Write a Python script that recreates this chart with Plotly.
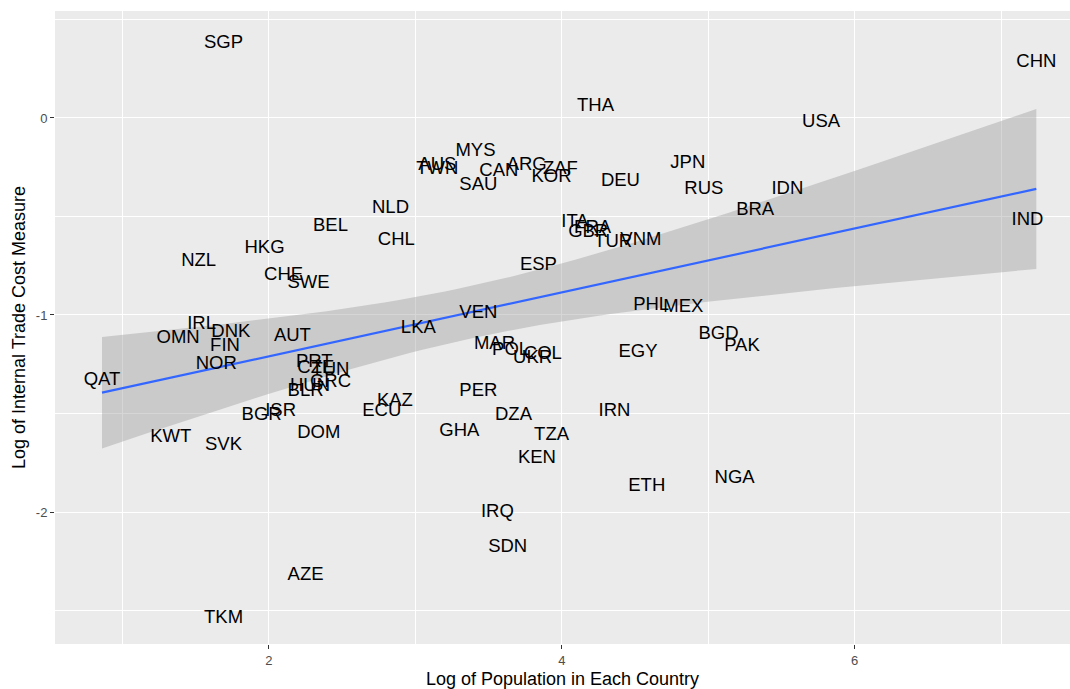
"""Internal trade cost vs population (ggplot-style scatter of country labels)"""

import numpy as np
import plotly.graph_objects as go

COUNTRIES = [
    "SGP", "CHN", "THA", "USA", "MYS", "AUS", "TWN", "ARG", "ZAF", "CAN",
    "KOR", "SAU", "JPN", "DEU", "RUS", "IDN", "NLD", "BRA", "BEL", "ITA",
    "FRA", "GBR", "TUR", "VNM", "CHL", "IND", "HKG", "NZL", "ESP", "CHE",
    "SWE", "PHL", "MEX", "VEN", "IRL", "OMN", "DNK", "AUT", "LKA", "BGD",
    "PAK", "FIN", "MAR", "POL", "COL", "UKR", "EGY", "NOR", "PRT", "CZE",
    "TUN", "GRC", "HUN", "BLR", "QAT", "PER", "KAZ", "ECU", "ISR", "BGR",
    "IRN", "DZA", "GHA", "DOM", "KWT", "SVK", "TZA", "KEN", "NGA", "ETH",
    "IRQ", "SDN", "AZE", "TKM",
]
LOG_POP = [
    1.69, 7.24, 4.23, 5.77, 3.41, 3.15, 3.15, 3.76, 3.99, 3.57,
    3.93, 3.43, 4.86, 4.40, 4.97, 5.54, 2.83, 5.32, 2.42, 4.09,
    4.21, 4.18, 4.35, 4.54, 2.87, 7.18, 1.97, 1.52, 3.84, 2.10,
    2.27, 4.61, 4.83, 3.43, 1.54, 1.38, 1.74, 2.16, 3.02, 5.07,
    5.23, 1.70, 3.54, 3.65, 3.87, 3.80, 4.52, 1.64, 2.31, 2.32,
    2.42, 2.42, 2.28, 2.25, 0.86, 3.43, 2.86, 2.77, 2.08, 1.95,
    4.36, 3.67, 3.30, 2.34, 1.33, 1.69, 3.93, 3.83, 5.18, 4.58,
    3.56, 3.63, 2.25, 1.69,
]
LOG_COST = [
    0.38, 0.28, 0.06, -0.02, -0.17, -0.24, -0.26, -0.24, -0.26, -0.27,
    -0.30, -0.34, -0.23, -0.32, -0.36, -0.36, -0.46, -0.47, -0.55, -0.53,
    -0.56, -0.58, -0.63, -0.62, -0.62, -0.52, -0.66, -0.73, -0.75, -0.80,
    -0.84, -0.95, -0.96, -0.99, -1.05, -1.12, -1.09, -1.11, -1.07, -1.10,
    -1.16, -1.16, -1.15, -1.18, -1.20, -1.22, -1.19, -1.25, -1.24, -1.27,
    -1.28, -1.34, -1.36, -1.39, -1.33, -1.39, -1.44, -1.49, -1.49, -1.51,
    -1.49, -1.51, -1.59, -1.60, -1.62, -1.66, -1.61, -1.73, -1.83, -1.87,
    -2.00, -2.18, -2.32, -2.54,
]

X_TICKS = [2, 4, 6]
Y_TICKS = [0, -1, -2]
Y_TICK_TEXT = ["0", "-1", "-2"]

# 線形回帰 + 95% 信頼区間 (geom_smooth(method="lm") 相当)
x = np.array(LOG_POP)
y = np.array(LOG_COST)
n = len(x)
slope, intercept = np.polyfit(x, y, 1)
resid = y - (slope * x + intercept)
s = np.sqrt((resid ** 2).sum() / (n - 2))
sxx = ((x - x.mean()) ** 2).sum()
T_975 = 1.993
xs = np.linspace(x.min(), x.max(), 80)
fit = slope * xs + intercept
se = s * np.sqrt(1 / n + (xs - x.mean()) ** 2 / sxx)
upper = fit + T_975 * se
lower = fit - T_975 * se

fig = go.Figure()
fig.add_trace(go.Scatter(
    x=np.concatenate([xs, xs[::-1]]), y=np.concatenate([upper, lower[::-1]]),
    fill="toself", fillcolor="rgba(153,153,153,0.4)", line=dict(width=0),
    mode="lines", hoverinfo="skip", showlegend=False,
))
fig.add_trace(go.Scatter(
    x=xs, y=fit, mode="lines", line=dict(color="#3366FF", width=2.2),
    showlegend=False,
))
fig.add_trace(go.Scatter(
    x=LOG_POP, y=LOG_COST, mode="text", text=COUNTRIES,
    textposition="middle center",
    textfont=dict(family="Liberation Sans, Arial, sans-serif", size=18.5, color="black"),
    showlegend=False,
))

axis_common = dict(
    showgrid=True, gridcolor="white", gridwidth=1.1,
    zeroline=False, showline=False, automargin=False,
    ticks="outside", ticklen=4, tickcolor="#333333", tickwidth=1,
    tickfont=dict(size=13, color="#4D4D4D"),
    minor=dict(showgrid=True, gridcolor="white", gridwidth=0.5, ticks=""),
)

fig.update_layout(
    width=1070, height=689,
    font=dict(family="Liberation Sans, Arial, sans-serif", color="black"),
    plot_bgcolor="#EBEBEB", paper_bgcolor="white",
    margin=dict(l=55, r=0, t=11, b=45),
    xaxis=dict(
        **axis_common, range=[0.539, 7.47], tickvals=X_TICKS,
        minor_dtick=1, minor_tick0=1,
        title=dict(text="Log of Population in Each Country", font=dict(size=18), standoff=6),
    ),
    yaxis=dict(
        **axis_common, range=[-2.67, 0.543], tickvals=Y_TICKS, ticktext=Y_TICK_TEXT,
        minor_dtick=0.5, minor_tick0=0.5,
        title=dict(text="Log of Internal Trade Cost Measure", font=dict(size=18), standoff=5),
    ),
)

# ページ既定の body 余白を消す
fig.write_html(
    "out.html",
    config={"displayModeBar": False},
    post_script="document.body.style.margin='0';",
)
